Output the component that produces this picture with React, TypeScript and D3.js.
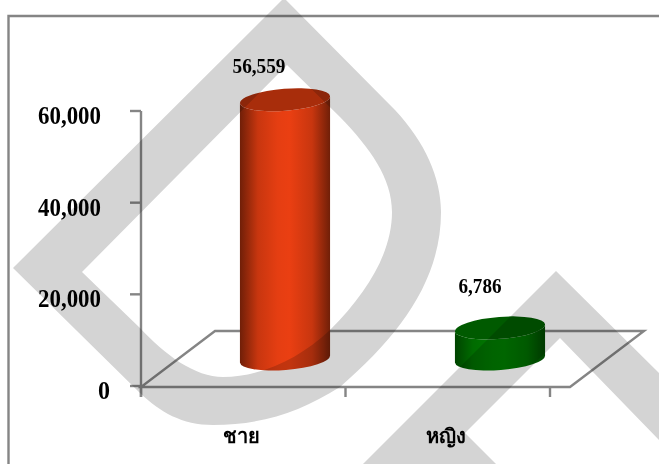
import React from "react";
import * as d3 from "d3";

const categories = ["ชาย", "หญิง"];
const seriesValues = [56559, 6786];
const valueLabels = ["56,559", "6,786"];
const valueLabelOffsets = [
  { dx: -26, dy: -27, length: 53 },
  { dx: -20, dy: -35, length: 43 },
];
const barTones = [
  { edge: "#701f08", mid: "#ea3f12", cap: "#a82d0b", id: "cylRed" },
  { edge: "#004400", mid: "#007a00", cap: "#005a00", id: "cylGreen" },
];
const yTicks = [0, 20000, 40000, 60000];

const WIDTH = 659;
const HEIGHT = 464;
const FONT = '"Liberation Serif", "Times New Roman", serif';
const LINE = "#858585";
const LINE_W = 2.4;

const y = d3.scaleLinear().domain([0, 60000]).range([386, 111]);
const axisX = d3.scaleBand<string>().domain(categories).range([141, 550]);
// The cylinders stand further back on the floor, so their spacing differs from the axis.
const barX = d3.scalePoint<string>().domain(categories).range([285, 500]);
const baseY = 359;
const RX = 45.2;
const RY = 11;
const TILT = -4.5;
const slopeDy = RX * Math.sin((-TILT * Math.PI) / 180);
const slopeDx = RX * Math.cos((TILT * Math.PI) / 180);

const capPath = (cx: number, cy: number) =>
  `M${cx - slopeDx},${cy + slopeDy}A${RX},${RY} ${TILT} 1 1 ${cx + slopeDx},${cy - slopeDy}A${RX},${RY} ${TILT} 1 1 ${cx - slopeDx},${cy + slopeDy}Z`;

const bodyPath = (cx: number, top: number, bottom: number) =>
  `M${cx - slopeDx},${top + slopeDy}L${cx - slopeDx},${bottom + slopeDy}A${RX},${RY} ${TILT} 1 0 ${cx + slopeDx},${bottom - slopeDy}L${cx + slopeDx},${top - slopeDy}A${RX},${RY} ${TILT} 1 1 ${cx - slopeDx},${top + slopeDy}Z`;

// Large diagonal stamp laid over the whole sheet.
const stampLoop =
  "M13,268L284,-2L395,110C425,142 441,178 441,212C441,280 400,335 340,387C300,412 262,425 213,425C182,425 160,412 140,393ZM82,272L140,328C165,355 195,377 223,377C262,377 300,358 330,330C370,290 392,250 392,212C392,178 370,148 340,117L287,65Z";
const stampPeak = "M363,464L556,271L659,373L659,440L560,338L465,433L496,464Z";

export default function App() {
  const [x0] = axisX.range();
  const bw = axisX.bandwidth();
  const tickXs = [x0, x0 + bw, x0 + 2 * bw];

  return (
    <svg
      width={WIDTH}
      height={HEIGHT}
      viewBox={`0 0 ${WIDTH} ${HEIGHT}`}
      style={{ position: "absolute", left: 0, top: 0, background: "#fff", isolation: "isolate" }}
    >
      <defs>
        {barTones.map((t) => (
          <linearGradient key={t.id} id={t.id} x1="0" x2="1" y1="0" y2="0">
            <stop offset="0" stopColor={t.edge} />
            <stop offset="0.2" stopColor={d3.interpolateRgb(t.edge, t.mid)(0.72)} />
            <stop offset="0.42" stopColor={d3.interpolateRgb(t.edge, t.mid)(0.96)} />
            <stop offset="0.55" stopColor={t.mid} />
            <stop offset="0.8" stopColor={d3.interpolateRgb(t.edge, t.mid)(0.72)} />
            <stop offset="1" stopColor={t.edge} />
          </linearGradient>
        ))}
      </defs>
      <rect width={WIDTH} height={HEIGHT} fill="#fff" />

      {/* outer frame: top and left edges only reach the sheet */}
      <path d={`M8.5,${HEIGHT}V16H${WIDTH}`} fill="none" stroke={LINE} strokeWidth={LINE_W} />

      {/* floor parallelogram */}
      <path
        d={`M141,${y(0) + 1}L570,${y(0) + 1}L644,331L215,331Z`}
        fill="none"
        stroke={LINE}
        strokeWidth={LINE_W}
      />

      {/* value axis */}
      <line x1={141} x2={141} y1={y(60000)} y2={397} stroke={LINE} strokeWidth={LINE_W} />
      {yTicks.map((t) => (
        <g key={t}>
          <line x1={130} x2={141} y1={y(t)} y2={y(t)} stroke={LINE} strokeWidth={LINE_W} />
          <text
            x={t === 0 ? 110 : 101}
            y={y(t) + 13}
            textAnchor="end"
            fontFamily={FONT}
            fontWeight="bold"
            fontSize={25}
            textLength={t === 0 ? 12 : 63}
            lengthAdjust="spacingAndGlyphs"
            fill="#000"
          >
            {d3.format(",")(t)}
          </text>
        </g>
      ))}

      {/* category axis */}
      {tickXs.map((tx) => (
        <line key={tx} x1={tx} x2={tx} y1={387} y2={397} stroke={LINE} strokeWidth={LINE_W} />
      ))}
      {categories.map((c) => (
        <text
          key={c}
          x={(axisX(c) as number) + bw / 2 - 2}
          y={443}
          textAnchor="middle"
          fontFamily={FONT}
          fontWeight="bold"
          fontSize={20}
          fill="#000"
        >
          {c}
        </text>
      ))}

      {/* cylinders */}
      {categories.map((c, i) => {
        const cx = barX(c) as number;
        const h = y(0) - y(seriesValues[i]);
        const top = baseY - h;
        const t = barTones[i];
        return (
          <g key={c}>
            <path d={bodyPath(cx, top, baseY)} fill={`url(#${t.id})`} />
            <path d={capPath(cx, top)} fill={t.cap} />
            <text
              x={cx + valueLabelOffsets[i].dx}
              y={top + valueLabelOffsets[i].dy}
              textAnchor="middle"
              fontFamily={FONT}
              fontWeight="bold"
              fontSize={21}
              textLength={valueLabelOffsets[i].length}
              lengthAdjust="spacingAndGlyphs"
              fill="#000"
            >
              {valueLabels[i]}
            </text>
          </g>
        );
      })}

      {/* stamp darkens everything beneath it */}
      <g style={{ mixBlendMode: "multiply" }} fill="#d4d4d4">
        <path d={stampLoop} fillRule="evenodd" />
        <path d={stampPeak} />
      </g>
    </svg>
  );
}
